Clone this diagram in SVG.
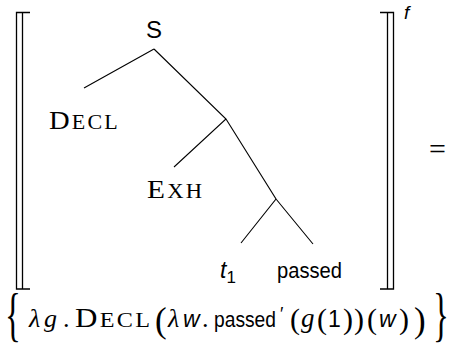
<svg xmlns="http://www.w3.org/2000/svg" width="454" height="347" viewBox="0 0 454 347">
<style>
.br{fill:none;stroke:#000;stroke-width:1.3}
.ln{fill:none;stroke:#000;stroke-width:1.1}
.ss{font-family:"Liberation Sans",Arial,sans-serif;fill:#000}
.sr{font-family:"Liberation Serif","Times New Roman",serif;fill:#000}
.it{font-style:italic}
.sc{letter-spacing:2px}
</style>
<rect width="454" height="347" fill="#fff"/>
<g id="bracket-left">
<path class="br" d="M30,12.5 H16.5 V289 H30 M22.5,12.5 V289"/>
</g>
<g id="bracket-right">
<path class="br" d="M380,12.5 H393.5 V289 H380 M387.5,12.5 V289"/>
<text class="ss it" x="404" y="19" style="font-size:19px">f</text>
</g>
<g id="connectors">
<path class="ln" d="M154,49 L84,88 M154,49 L226,119 L174,167 M226,119 L276,199 L241,243 M276,199 L313,244"/>
</g>
<g id="node-S"><text class="ss" x="154" y="38" text-anchor="middle" style="font-size:24px">S</text></g>
<g id="node-decl"><text class="sr sc" transform="translate(49,129) scale(1.1,1)" style="font-size:26px">D<tspan style="font-size:20px">ECL</tspan></text></g>
<g id="node-exh"><text class="sr sc" transform="translate(147,198) scale(1.13,1)" style="font-size:26px">E<tspan style="font-size:20px">XH</tspan></text></g>
<g id="node-t1"><text class="ss" x="220" y="278" style="font-size:23px"><tspan class="it">t</tspan><tspan style="font-size:17px" dy="5">1</tspan></text></g>
<g id="node-passed"><text class="ss" x="277" y="278" textLength="65" lengthAdjust="spacingAndGlyphs" style="font-size:22px">passed</text></g>
<g id="equals"><text class="sr" x="437.5" y="158.5" text-anchor="middle" style="font-size:30px">=</text></g>
<g id="formula">
<text class="sr" transform="translate(5,334) scale(0.55,1)" style="font-size:60px">{</text>
<text class="sr it" x="29" y="327" style="font-size:26px">λ</text>
<text class="sr it" x="44" y="327" style="font-size:26px">g</text>
<text class="sr" x="63" y="327" style="font-size:26px">.</text>
<text class="sr sc" transform="translate(75,327) scale(1.15,1)" style="font-size:27px">D<tspan style="font-size:21px">ECL</tspan></text>
<text class="sr" x="155" y="332" style="font-size:35px">(</text>
<text class="sr it" x="168" y="327" style="font-size:26px">λ</text>
<text class="ss it" x="183" y="327" style="font-size:23px">w</text>
<text class="sr" x="202" y="327" style="font-size:26px">.</text>
<text class="ss" x="214" y="327" style="font-size:22px"><tspan textLength="62" lengthAdjust="spacingAndGlyphs">passed</tspan><tspan x="280" dy="-7" style="font-size:18px">′</tspan><tspan class="sr" x="290" dy="9" style="font-size:30px">(</tspan></text>
<text class="sr it" x="301" y="327" style="font-size:27px">g</text>
<text class="sr" x="317" y="329" style="font-size:30px">(</text>
<text class="ss" x="328" y="327" style="font-size:23px">1</text>
<text class="sr" x="343" y="329" style="font-size:30px">)</text>
<text class="sr" x="354" y="329" style="font-size:30px">)</text>
<text class="sr" x="367" y="329" style="font-size:30px">(</text>
<text class="ss it" x="379" y="327" style="font-size:23px">w</text>
<text class="sr" x="399" y="329" style="font-size:30px">)</text>
<text class="sr" x="414" y="332" style="font-size:35px">)</text>
<text class="sr" transform="translate(433,334) scale(0.55,1)" style="font-size:60px">}</text>
</g>
</svg>
